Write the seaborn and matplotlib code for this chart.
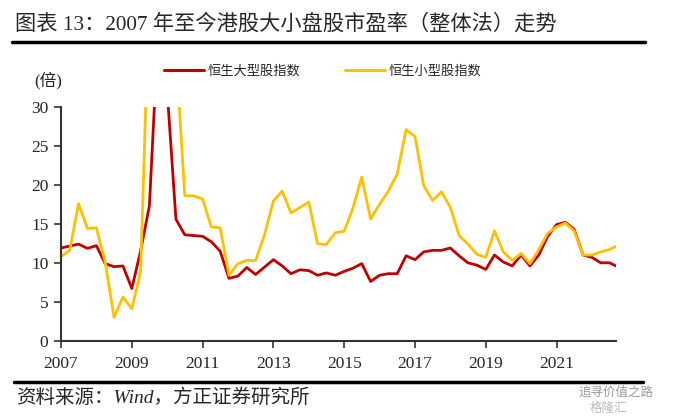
import pandas as pd
import numpy as np
import matplotlib
matplotlib.use('Agg')
import matplotlib.pyplot as plt
import matplotlib.dates as mdates
from matplotlib.lines import Line2D
import seaborn as sns

# 季度数据（2007Q1 起），最后一个点为 2022 年 9 月初
dates = list(pd.date_range('2007-01-01', periods=63, freq='QS')) + [pd.Timestamp('2022-09-05')]

large_cap = [11.9, 12.15, 12.4, 11.85, 12.2, 9.9, 9.5, 9.6, 6.7, 11.5, 17.3, 40.0, 32.0, 15.6,
             13.6, 13.5, 13.4, 12.7, 11.5, 8.0, 8.3, 9.4, 8.5, 9.45, 10.4, 9.6, 8.6, 9.1,
             9.0, 8.4, 8.7, 8.4, 8.9, 9.3, 9.9, 7.6, 8.4, 8.6, 8.6, 10.9, 10.4, 11.4,
             11.6, 11.6, 11.9, 10.9, 10.0, 9.7, 9.15, 11.0, 10.1, 9.6, 11.0, 9.6, 11.0,
             13.4, 14.9, 15.2, 14.3, 11.0, 10.7, 10.0, 10.0, 9.6]

small_cap = [10.8, 11.6, 17.6, 14.4, 14.5, 10.1, 3.0, 5.6, 4.1, 8.8, 45.0, 60.0, 55.0, 37.0,
             18.6, 18.6, 18.2, 14.6, 14.5, 8.4, 9.9, 10.3, 10.3, 13.6, 17.95, 19.2, 16.4, 17.1,
             17.8, 12.45, 12.35, 13.85, 14.05, 17.0, 21.0, 15.6, 17.5, 19.2, 21.4, 27.1, 26.2, 19.9,
             18.0, 19.1, 17.1, 13.5, 12.4, 11.1, 10.7, 14.1, 11.4, 10.3, 11.2, 9.9, 11.7,
             13.8, 14.6, 15.1, 14.1, 11.0, 11.0, 11.4, 11.7, 12.1]

series_names = ['恒生大型股指数', '恒生小型股指数']
colors = ['#C00000', '#FFC000']
year_ticks = [2007, 2009, 2011, 2013, 2015, 2017, 2019, 2021]

df = pd.DataFrame({
    'date': dates * 2,
    'pe': large_cap + small_cap,
    'index': [series_names[0]] * len(dates) + [series_names[1]] * len(dates),
})

sns.set_style('white')
plt.rcParams['font.family'] = ['Liberation Serif', 'Noto Sans CJK SC', 'DejaVu Sans']

fig = plt.figure(figsize=(6.74, 4.19), dpi=100)
ax = fig.add_axes([61 / 674, 1 - 340.7 / 419, (616 - 61) / 674, (340.7 - 107) / 419])

sns.lineplot(data=df, x='date', y='pe', hue='index', palette=colors,
             linewidth=2.0, ax=ax, legend=False)

ax.set_ylim(0, 30)
ax.set_yticks(range(0, 31, 5))
ax.set_xlim(pd.Timestamp('2007-01-01'), pd.Timestamp('2022-09-06'))
ax.set_xticks([pd.Timestamp(f'{y}-01-01') for y in year_ticks])
ax.xaxis.set_major_formatter(mdates.DateFormatter('%Y'))
ax.set_xlabel('')
ax.set_ylabel('')

for s in ['top', 'right']:
    ax.spines[s].set_visible(False)
for s in ['left', 'bottom']:
    ax.spines[s].set_color('#333333')
    ax.spines[s].set_linewidth(1.5)
ax.tick_params(axis='both', direction='out', length=5, width=1.2, color='#333333',
               labelsize=12.5, pad=4, left=True, bottom=True)
ax.tick_params(axis='x', pad=6)

# 单位
fig.text(48 / 674, 1 - 81 / 419, '(倍)', fontsize=12, ha='center', va='center')

# 图例
handles = [Line2D([], [], color=c, lw=2.2) for c in colors]
fig.legend(handles, series_names, loc='center', bbox_to_anchor=(323 / 674, 1 - 71 / 419),
           ncol=2, frameon=False, handlelength=3.0, handletextpad=0.3,
           columnspacing=3.4, prop={'family': ['Noto Sans CJK SC'], 'size': 9.5})

# 标题和分隔线
fig.text(15 / 674, 1 - 24 / 419, '图表 13：2007 年至今港股大小盘股市盈率（整体法）走势',
         fontsize=15.3, ha='left', va='center')
fig.add_artist(Line2D([12 / 674, 645 / 674], [1 - 42 / 419] * 2, color='black', lw=2.5))
fig.add_artist(Line2D([14 / 674, 643 / 674], [1 - 382 / 419] * 2, color='black', lw=2.5))

fig.text(16 / 674, 1 - 398 / 419, '资料来源：Wind，方正证券研究所', fontsize=14,
         style='italic', ha='left', va='center')

# 水印
fig.text(578 / 674, 1 - 392 / 419, '追寻价值之路', fontsize=9, color='#999999',
         ha='left', va='center', family=['Noto Sans CJK SC'])
fig.text(590 / 674, 1 - 408 / 419, '格隆汇', fontsize=9, color='#bbbbbb',
         ha='left', va='center', family=['Noto Sans CJK SC'])

fig.savefig('out.png', dpi=100)
